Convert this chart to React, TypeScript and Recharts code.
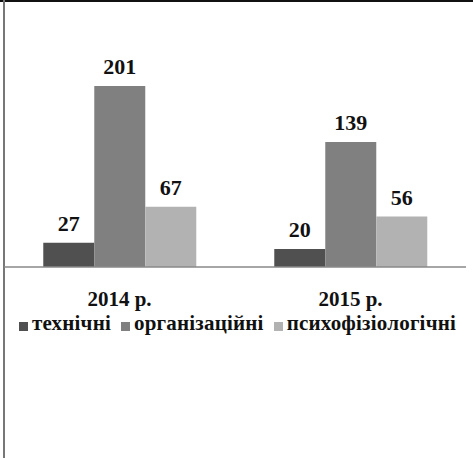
import React from 'react';
import { BarChart, Bar, XAxis, YAxis, Legend, LabelList } from 'recharts';

const years = ['2014 р.', '2015 р.'];
const seriesNames = ['технічні', 'організаційні', 'психофізіологічні'];
const technical = [27, 20];
const organizational = [201, 139];
const psycho = [67, 56];

const data = years.map((year, i) => ({
  year,
  tech: technical[i],
  org: organizational[i],
  psy: psycho[i],
}));

const FONT = '"Liberation Serif", "Times New Roman", serif';

const App: React.FC = () => {
  return (
    <div style={{ position: 'absolute', left: 0, top: 0, width: 473, height: 458, background: '#fff' }}>
      <div style={{ position: 'absolute', left: 0, top: 0, width: 473, height: 2, background: '#111' }} />
      <div style={{ position: 'absolute', left: 3, top: 0, width: 2, height: 458, background: '#777' }} />
      <BarChart
        width={473}
        height={458}
        data={data}
        margin={{ top: 42, right: 7, left: 4, bottom: 151 }}
        barCategoryGap="17%"
        barGap={0}
      >
        <XAxis
          xAxisId="sep"
          type="number"
          domain={[0, 2]}
          ticks={[1]}
          height={0}
          axisLine={false}
          tick={false}
          tickSize={5}
          tickLine={{ stroke: '#777', strokeWidth: 1.5 }}
        />
        <XAxis
          dataKey="year"
          height={40}
          tickLine={false}
          tickSize={0}
          tickMargin={24}
          axisLine={{ stroke: '#888', strokeWidth: 1.5 }}
          tick={{ fill: '#111', fontSize: 21, fontWeight: 700, fontFamily: FONT }}
        />
        <YAxis hide domain={[0, 250]} />
        <Legend
          layout="horizontal"
          verticalAlign="middle"
          align="center"
          iconType="square"
          iconSize={9}
          itemSorter={(item: any) => seriesNames.indexOf(item.value)}
          wrapperStyle={{ top: 311, left: 12, width: 461 }}
          formatter={(value: string) => (
            <span style={{ color: '#111', fontSize: 21, fontWeight: 700, fontFamily: FONT, letterSpacing: 0.2 }}>
              {value}
            </span>
          )}
        />
        <Bar dataKey="tech" name={seriesNames[0]} fill="#505050" isAnimationActive={false}>
          <LabelList dataKey="tech" position="top" offset={12} fill="#111" fontSize={22} fontWeight={700} fontFamily={FONT} />
        </Bar>
        <Bar dataKey="org" name={seriesNames[1]} fill="#808080" isAnimationActive={false}>
          <LabelList dataKey="org" position="top" offset={12} fill="#111" fontSize={22} fontWeight={700} fontFamily={FONT} />
        </Bar>
        <Bar dataKey="psy" name={seriesNames[2]} fill="#b2b2b2" isAnimationActive={false}>
          <LabelList dataKey="psy" position="top" offset={12} fill="#111" fontSize={22} fontWeight={700} fontFamily={FONT} />
        </Bar>
      </BarChart>
    </div>
  );
};

export default App;
